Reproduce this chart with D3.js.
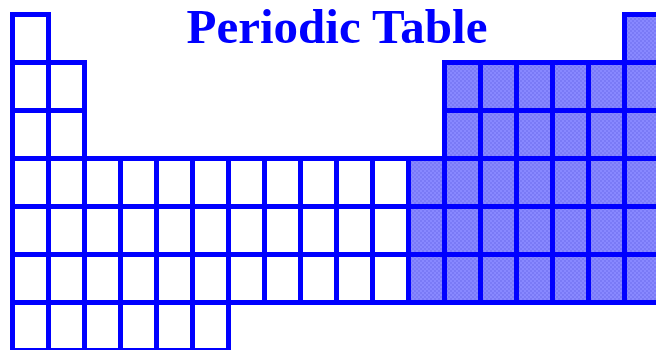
<!DOCTYPE html>
<html>
<head>
<meta charset="utf-8">
<script src="https://cdn.jsdelivr.net/npm/d3@7"></script>
<style>
  body { margin: 0; background: #fff; }
  svg { display: block; }
</style>
</head>
<body>
<svg class="table"></svg>
<script>
// groups (columns) and periods (rows)
let groups = d3.range(1, 19);
let periods = d3.range(1, 8);

// which group columns each period occupies
let periodGroups = [
  [1, 18],
  [1, 2, 13, 14, 15, 16, 17, 18],
  [1, 2, 13, 14, 15, 16, 17, 18],
  d3.range(1, 19),
  d3.range(1, 19),
  d3.range(1, 19),
  [1, 2, 3, 4, 5, 6]
];

// first shaded group in each period
let shadedFrom = [18, 13, 13, 12, 12, 12, 19];

let cells = [];
periods.forEach((p, i) => {
  periodGroups[i].forEach(g => {
    cells.push({ period: p, group: g, shaded: g >= shadedFrom[i] });
  });
});

let width = 656, height = 350;

let svg = d3.select('.table')
    .attr('width', width)
    .attr('height', height);

// checker fill for the shaded block
let pat = svg.append('defs').append('pattern')
    .attr('id', 'checker')
    .attr('patternUnits', 'userSpaceOnUse')
    .attr('width', 4)
    .attr('height', 4);
pat.append('rect').attr('width', 4).attr('height', 4).attr('fill', '#8888ff');
pat.append('rect').attr('width', 2).attr('height', 2).attr('fill', '#7a7af6');
pat.append('rect').attr('x', 2).attr('y', 2).attr('width', 2).attr('height', 2).attr('fill', '#7a7af6');

let x = d3.scaleBand().domain(groups).range([12.5, 660.5]);
let y = d3.scaleBand().domain(periods).range([14.5, 350.5]);

// fills first, then borders on top
svg.append('g').selectAll('rect')
    .data(cells)
    .enter()
    .append('rect')
    .attr('x', d => x(d.group))
    .attr('y', d => y(d.period))
    .attr('width', x.bandwidth())
    .attr('height', y.bandwidth())
    .attr('fill', d => d.shaded ? 'url(#checker)' : '#fff');

svg.append('g').selectAll('rect')
    .data(cells)
    .enter()
    .append('rect')
    .attr('x', d => x(d.group))
    .attr('y', d => y(d.period))
    .attr('width', x.bandwidth())
    .attr('height', y.bandwidth())
    .attr('fill', 'none')
    .attr('stroke', '#0000ff')
    .attr('stroke-width', 5);

svg.append('text')
    .attr('x', 337)
    .attr('y', 43)
    .attr('text-anchor', 'middle')
    .attr('font-family', '"Liberation Serif", "Times New Roman", serif')
    .attr('font-weight', 'bold')
    .attr('font-size', 49)
    .attr('fill', '#0000ff')
    .text('Periodic Table');
</script>
</body>
</html>
